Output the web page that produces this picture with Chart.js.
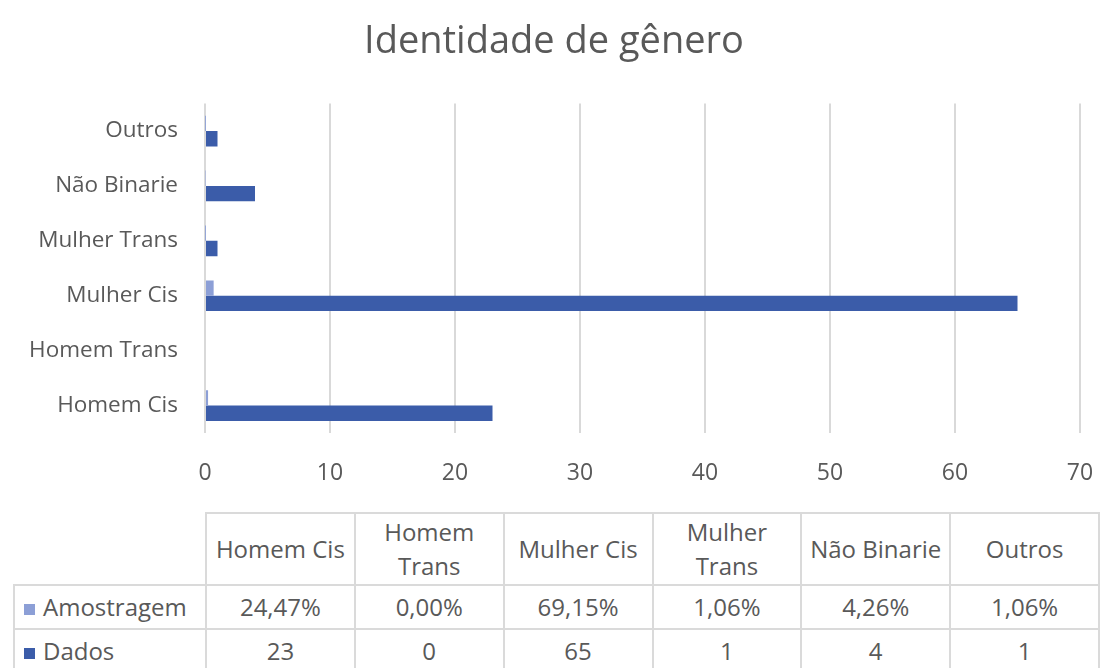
<!DOCTYPE html>
<html>
<head>
<meta charset="utf-8">
<script src="https://cdn.jsdelivr.net/npm/chart.js@4"></script>
<style>
  html, body { margin: 0; padding: 0; background: #fff; }
  body { width: 1100px; height: 668px; overflow: hidden; position: relative; font-family: "Open Sans", sans-serif; }
  .chart-box { position: absolute; left: 0; top: 0; width: 1100px; height: 505px; }
  .data-table { position: absolute; left: 13px; top: 512px; border-collapse: collapse; table-layout: fixed; color: #595959; font-size: 24px; }
  .data-table td { border: 2px solid #dadada; text-align: center; padding: 0; line-height: 34px; white-space: nowrap; }
  .data-table td.corner { border-top: none; border-left: none; }
  .data-table td.series { text-align: left; padding-left: 9px; }
  .swatch { display: inline-block; width: 11px; height: 11px; margin-right: 8px; vertical-align: 1px; }
</style>
</head>
<body>
<div class="chart-box"><canvas id="genero"></canvas></div>
<table class="data-table" id="tabela"></table>
<script>
var categories = ['Homem Cis', 'Homem Trans', 'Mulher Cis', 'Mulher Trans', 'Não Binarie', 'Outros'];
var tableHeaders = ['Homem Cis', 'Homem<br>Trans', 'Mulher Cis', 'Mulher<br>Trans', 'Não Binarie', 'Outros'];
var amostragem = [0.2447, 0, 0.6915, 0.0106, 0.0426, 0.0106];
var dados = [23, 0, 65, 1, 4, 1];
var xTicks = [0, 10, 20, 30, 40, 50, 60, 70];

var seriesNames = ['Amostragem', 'Dados'];
var seriesColors = ['#8c9fd6', '#3b5ca9'];
var textColor = '#595959';

function pct(v) {
  return (v * 100).toFixed(2).replace('.', ',') + '%';
}

function buildTable() {
  var html = '<colgroup><col style="width:192px">';
  categories.forEach(function () { html += '<col style="width:149px">'; });
  html += '</colgroup>';

  html += '<tr style="height:72px"><td class="corner"></td>';
  tableHeaders.forEach(function (h) { html += '<td>' + h + '</td>'; });
  html += '</tr>';

  var rows = [amostragem.map(pct), dados.map(String)];
  rows.forEach(function (vals, i) {
    html += '<tr style="height:44px"><td class="series"><span class="swatch" style="background:' +
      seriesColors[i] + '"></span>' + seriesNames[i] + '</td>';
    vals.forEach(function (v) { html += '<td>' + v + '</td>'; });
    html += '</tr>';
  });
  document.getElementById('tabela').innerHTML = html;
}

buildTable();

new Chart(document.getElementById('genero'), {
  type: 'bar',
  data: {
    labels: categories,
    datasets: [
      { label: seriesNames[0], data: amostragem, backgroundColor: seriesColors[0] },
      { label: seriesNames[1], data: dados, backgroundColor: seriesColors[1] }
    ]
  },
  options: {
    indexAxis: 'y',
    responsive: true,
    maintainAspectRatio: false,
    animation: false,
    categoryPercentage: 0.56,
    barPercentage: 1,
    // left padding keeps the title centred where the reference has it
    layout: { padding: { left: 28, right: 20, top: 0, bottom: 0 } },
    plugins: {
      legend: { display: false },
      tooltip: { enabled: false },
      title: {
        display: true,
        text: 'Identidade de gênero',
        color: textColor,
        font: { family: 'Open Sans', size: 38, weight: 'normal' },
        padding: { top: 19, bottom: 39 }
      }
    },
    scales: {
      x: {
        min: 0,
        max: 70,
        afterBuildTicks: function (scale) {
          scale.ticks = xTicks.map(function (v) { return { value: v }; });
        },
        afterFit: function (scale) {
          scale.height = 72;
          scale.paddingLeft = 0;
          scale.paddingRight = 0;
        },
        grid: { color: '#d9d9d9', lineWidth: 2, drawTicks: false },
        border: { display: false },
        ticks: { color: textColor, padding: 27, font: { family: 'Open Sans', size: 23 } }
      },
      y: {
        reverse: true,
        afterFit: function (scale) { scale.width = 177; },
        grid: { display: false, drawTicks: false },
        border: { display: false },
        ticks: { color: textColor, padding: 27, font: { family: 'Open Sans', size: 22.5 } }
      }
    }
  }
});
</script>
</body>
</html>
